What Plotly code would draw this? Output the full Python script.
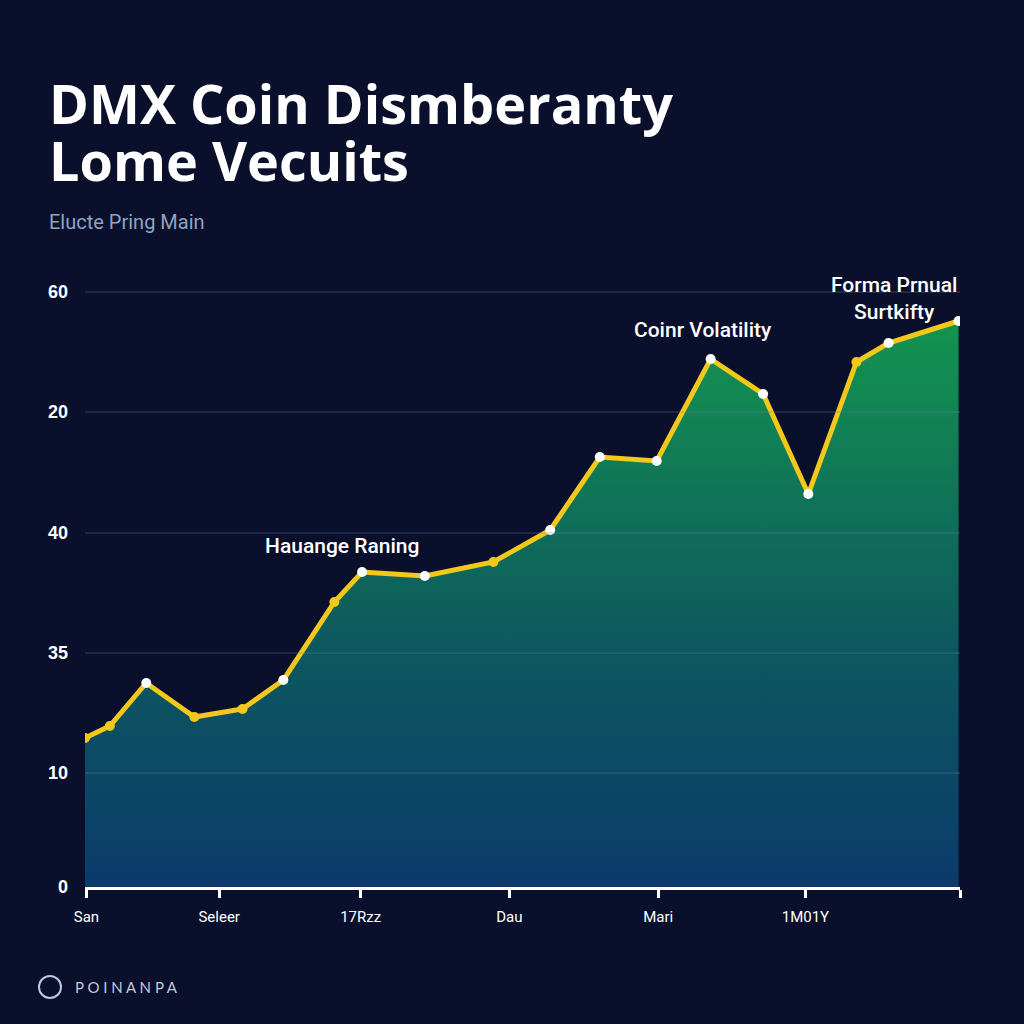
import plotly.graph_objects as go

# chart values (x in weeks, y on the chart's own index scale)
x_vals = [0.0, 1.7, 4.2, 7.5, 10.8, 13.6, 17.1, 19.0, 23.3, 28.0, 31.9,
          35.3, 39.2, 42.9, 46.5, 49.6, 52.9, 55.1, 59.9]
y_vals = [14.9, 16.1, 20.4, 17.0, 17.8, 20.7, 28.5, 31.5, 31.1, 32.5, 35.7,
          43.0, 42.6, 52.8, 49.3, 39.3, 52.5, 54.4, 56.6]
highlight = [False, False, True, False, False, True, False, True, True, False, True,
             True, True, True, True, True, False, True, True]

y_tickvals = [0, 11.4, 23.4, 35.4, 47.5, 59.5]
y_ticktext = ["0", "10", "35", "40", "20", "60"]
x_tickvals = [0.1, 9.2, 18.9, 29.1, 39.3, 49.4, 60]
x_ticktext = ["San", "Seleer", "17Rzz", "Dau", "Mari", "1M01Y", ""]

notes = [
    (17.6, 34.1, "Hauange Raning"),
    (42.4, 55.7, "Coinr Volatility"),
    (55.5, 58.9, "Forma Prnual<br>Surtkifty"),
]

BG = "#0a0f2b"
YELLOW = "#f2c81c"

fig = go.Figure()

fig.add_trace(
    go.Scatter(
        x=x_vals,
        y=y_vals,
        mode="lines+markers",
        line=dict(color=YELLOW, width=5),
        marker=dict(
            size=10,
            color=["#ffffff" if h else YELLOW for h in highlight],
            line=dict(width=0),
        ),
        fill="tozeroy",
        fillgradient=dict(
            type="vertical",
            start=0,
            stop=56,
            colorscale=[[0, "#0b3a6b"], [0.45, "#0d5a5e"], [1, "#13934f"]],
        ),
        showlegend=False,
    )
)

# faint gridlines drawn over the fill
for v in y_tickvals[1:]:
    fig.add_shape(
        type="line", xref="paper", x0=0, x1=1, yref="y", y0=v, y1=v,
        line=dict(color="rgba(110,130,175,0.45)", width=1), layer="above",
    )

for nx, ny, txt in notes:
    fig.add_annotation(
        x=nx, y=ny, text=txt, showarrow=False,
        font=dict(family="Roboto", size=21, color="#ffffff", weight=500),
    )

# titles (two separate lines to get the tight line spacing)
fig.add_annotation(
    xref="paper", yref="paper", x=-0.043, y=1.2544, xanchor="left", yanchor="middle",
    text="DMX Coin Dismberanty", showarrow=False,
    font=dict(family="Open Sans", size=54, color="#ffffff", weight=700),
)
fig.add_annotation(
    xref="paper", yref="paper", x=-0.043, y=1.1632, xanchor="left", yanchor="middle",
    text="Lome Vecuits", showarrow=False,
    font=dict(family="Open Sans", size=54, color="#ffffff", weight=700),
)
fig.add_annotation(
    xref="paper", yref="paper", x=-0.043, y=1.064, xanchor="left", yanchor="middle",
    text="Elucte Pring Main", showarrow=False,
    font=dict(family="Roboto", size=20, color="#8ea4c4"),
)

# footer brand
fig.add_shape(
    type="circle", xref="paper", yref="paper",
    x0=-0.0526, x1=-0.0274, y0=-0.1776, y1=-0.1424,
    line=dict(color="#c3c7da", width=2),
)
fig.add_annotation(
    xref="paper", yref="paper", x=-0.014, y=-0.16, xanchor="left", yanchor="middle",
    text="P O I N A N P A", showarrow=False,
    font=dict(family="Lato", size=15, color="#c3c7da"),
)

fig.update_xaxes(
    range=[0, 60],
    tickvals=x_tickvals,
    ticktext=x_ticktext,
    showgrid=False,
    zeroline=False,
    showline=True,
    linecolor="#ffffff",
    linewidth=3,
    ticks="outside",
    ticklen=8,
    tickwidth=3,
    tickcolor="#ffffff",
    ticklabelstandoff=6,
    tickfont=dict(family="Roboto", size=15, color="#ffffff"),
)
fig.update_yaxes(
    range=[0, 62.5],
    tickvals=y_tickvals,
    ticktext=y_ticktext,
    showgrid=False,
    zeroline=False,
    showline=False,
    ticklabelstandoff=16,
    tickfont=dict(family="Liberation Sans", size=18, color="#ffffff", weight=700),
)

fig.update_layout(
    width=1024,
    height=1024,
    margin=dict(l=85, r=64, t=262, b=137),
    paper_bgcolor=BG,
    plot_bgcolor=BG,
    showlegend=False,
)

fig.write_html(
    "out.html",
    config={"displayModeBar": False},
    post_script="document.body.style.margin='0';document.body.style.background='%s';" % BG,
)
